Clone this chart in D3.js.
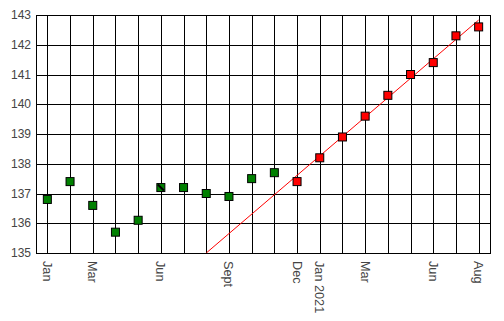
<!DOCTYPE html>
<html>
<head>
<meta charset="utf-8">
<script src="https://cdn.jsdelivr.net/npm/d3@7"></script>
<style>
	body { margin: 0; background: #fff; }
	text { font-family: 'Liberation Sans', Arial, sans-serif; }
</style>
</head>
<body>
<svg id="chart" width="504" height="321"></svg>
<script>
const months = ['Jan 2020', 'Feb 2020', 'Mar 2020', 'Apr 2020', 'May 2020', 'Jun 2020', 'Jul 2020',
	'Aug 2020', 'Sep 2020', 'Oct 2020', 'Nov 2020', 'Dec 2020', 'Jan 2021', 'Feb 2021', 'Mar 2021',
	'Apr 2021', 'May 2021', 'Jun 2021', 'Jul 2021', 'Aug 2021'];

const tickLabels = {
	'Jan 2020': 'Jan', 'Mar 2020': 'Mar', 'Jun 2020': 'Jun', 'Sep 2020': 'Sept', 'Dec 2020': 'Dec',
	'Jan 2021': 'Jan 2021', 'Mar 2021': 'Mar', 'Jun 2021': 'Jun', 'Aug 2021': 'Aug'
};

const yTicks = [135, 136, 137, 138, 139, 140, 141, 142, 143];

const greenMonths = ['Jan 2020', 'Feb 2020', 'Mar 2020', 'Apr 2020', 'May 2020', 'Jun 2020',
	'Jul 2020', 'Aug 2020', 'Sep 2020', 'Oct 2020', 'Nov 2020'];
const greenValues = [136.8, 137.4, 136.6, 135.7, 136.1, 137.2, 137.2, 137.0, 136.9, 137.5, 137.7];

const redMonths = ['Dec 2020', 'Jan 2021', 'Feb 2021', 'Mar 2021', 'Apr 2021', 'May 2021',
	'Jun 2021', 'Jul 2021', 'Aug 2021'];
const redValues = [137.4, 138.2, 138.9, 139.6, 140.3, 141.0, 141.4, 142.3, 142.6];

// trend line (clipped at the bottom of the plot)
const trendMonths = ['Aug 2020', 'Aug 2021'];
const trendValues = [135.0, 142.83];

const flaggedMonths = ['Jun 2020'];

const svg = d3.select('#chart');
const plotLeft = 36, plotRight = 490, plotTop = 15, plotBottom = 253;

const x = d3.scalePoint().domain(months).range([plotLeft, plotRight]).padding(0.5);
const y = d3.scaleLinear().domain([135, 143]).range([plotBottom, plotTop]);

const grid = svg.append('g')
	.attr('stroke', '#000')
	.attr('stroke-width', 1)
	.attr('shape-rendering', 'crispEdges');

grid.selectAll('.vline')
	.data(months)
	.enter().append('line')
	.attr('x1', d => Math.round(x(d)) + 0.5)
	.attr('x2', d => Math.round(x(d)) + 0.5)
	.attr('y1', plotTop)
	.attr('y2', plotBottom);

grid.selectAll('.hline')
	.data(yTicks)
	.enter().append('line')
	.attr('x1', plotLeft)
	.attr('x2', plotRight)
	.attr('y1', d => Math.round(y(d)) + 0.5)
	.attr('y2', d => Math.round(y(d)) + 0.5);

grid.append('rect')
	.attr('x', plotLeft + 0.5)
	.attr('y', plotTop + 0.5)
	.attr('width', plotRight - plotLeft)
	.attr('height', plotBottom - plotTop)
	.attr('fill', 'none');

svg.append('g').selectAll('text')
	.data(yTicks)
	.enter().append('text')
	.attr('x', 31)
	.attr('y', d => y(d))
	.attr('dy', '0.35em')
	.attr('text-anchor', 'end')
	.attr('font-size', '12px')
	.attr('fill', '#444')
	.text(d => d);

svg.append('g').selectAll('text')
	.data(months.filter(m => tickLabels[m]))
	.enter().append('text')
	.attr('transform', d => `translate(${x(d)},261) rotate(90)`)
	.attr('dy', '0.35em')
	.attr('text-anchor', 'start')
	.attr('font-size', '12.7px')
	.attr('fill', '#444')
	.text(d => tickLabels[d]);

svg.append('defs').append('clipPath')
	.attr('id', 'plot-clip')
	.append('rect')
	.attr('x', plotLeft)
	.attr('y', plotTop)
	.attr('width', plotRight - plotLeft)
	.attr('height', plotBottom - plotTop);

const trend = trendMonths.map((m, i) => [x(m), y(trendValues[i])]);
svg.append('path')
	.attr('clip-path', 'url(#plot-clip)')
	.attr('d', d3.line()(trend))
	.attr('stroke', '#ff0000')
	.attr('stroke-width', 1)
	.attr('fill', 'none');

const size = 8;
function drawMarkers(monthList, values, color) {
	svg.append('g').selectAll('rect')
		.data(monthList.map((m, i) => ({ month: m, value: values[i] })))
		.enter().append('rect')
		.attr('x', d => x(d.month) - size / 2)
		.attr('y', d => y(d.value) - size / 2)
		.attr('width', size)
		.attr('height', size)
		.attr('fill', color)
		.attr('stroke', '#000')
		.attr('stroke-width', 1);
}

drawMarkers(greenMonths, greenValues, '#008000');
drawMarkers(redMonths, redValues, '#ff0000');

// odd diagonal stripe on one marker
svg.append('g').selectAll('line')
	.data(flaggedMonths)
	.enter().append('line')
	.attr('x1', d => x(d) - size / 2 + 1)
	.attr('y1', d => y(greenValues[greenMonths.indexOf(d)]) - size / 2 + 1)
	.attr('x2', d => x(d) + size / 2 - 1)
	.attr('y2', d => y(greenValues[greenMonths.indexOf(d)]) + size / 2 - 1)
	.attr('stroke', '#000')
	.attr('stroke-width', 2);
</script>
</body>
</html>
